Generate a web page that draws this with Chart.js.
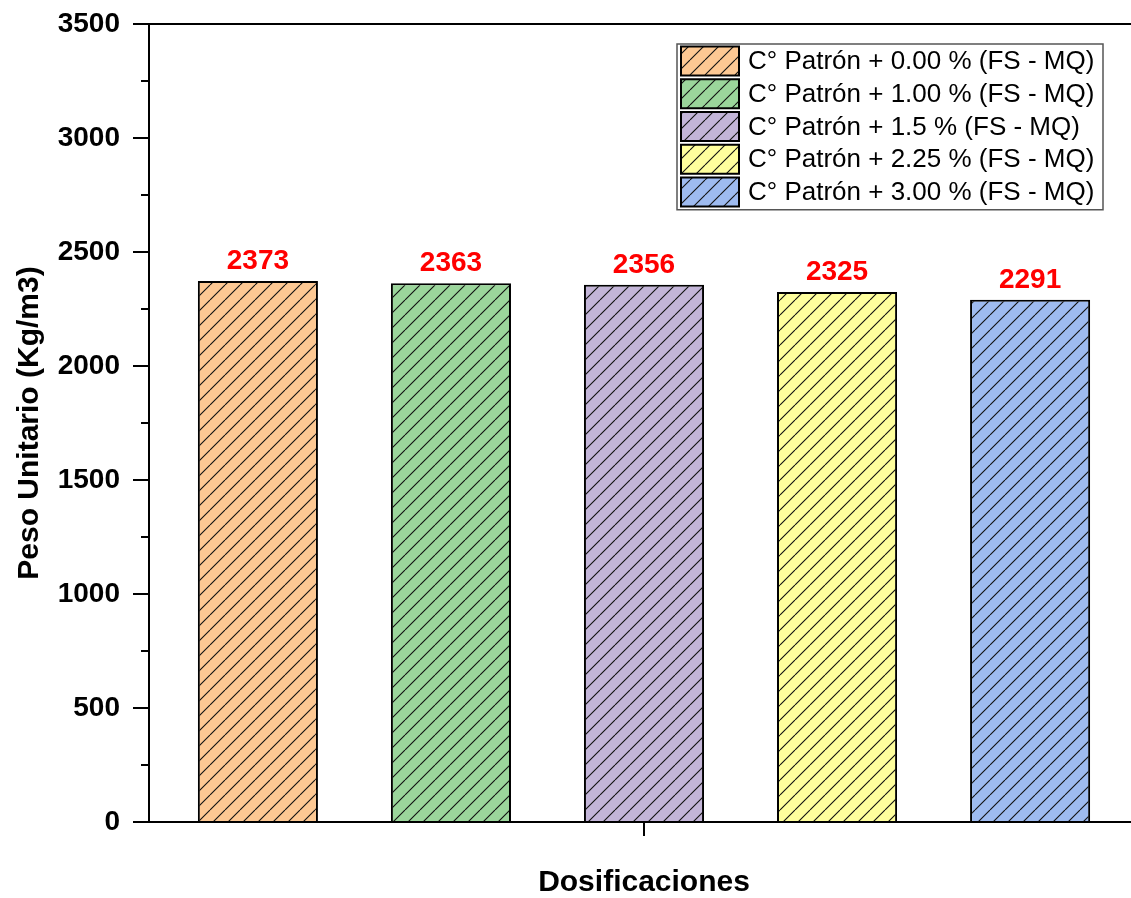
<!DOCTYPE html>
<html><head><meta charset="utf-8">
<script src="https://cdn.jsdelivr.net/npm/chart.js@4.4.1/dist/chart.umd.min.js"></script>
<style>html,body{margin:0;padding:0;background:#fff;overflow:hidden;width:1131px;height:898px}
canvas{display:block}</style></head><body>
<canvas id="c" width="1160" height="898" style="width:1160px;height:898px"></canvas>
<script>
const categories = [''];
const seriesLabels = [
  'C° Patrón + 0.00 % (FS - MQ)',
  'C° Patrón + 1.00 % (FS - MQ)',
  'C° Patrón + 1.5 % (FS - MQ)',
  'C° Patrón + 2.25 % (FS - MQ)',
  'C° Patrón + 3.00 % (FS - MQ)'
];
const seriesValues = [2373, 2363, 2356, 2325, 2291];
const seriesColors = ['#FDC893', '#9BD69B', '#C3B5D8', '#FFFF9D', '#9EBBF0'];
const yMin = 0, yMax = 3500, yStep = 500, yMinorStep = 250;
const xTitle = 'Dosificaciones';
const yTitle = 'Peso Unitario (Kg/m3)';

const FONT = '"Liberation Sans", Arial, sans-serif';

function hatch(color) {
  const s = 15;
  const c = document.createElement('canvas');
  c.width = s; c.height = s;
  const g = c.getContext('2d');
  g.fillStyle = color; g.fillRect(0, 0, s, s);
  g.strokeStyle = '#111'; g.lineWidth = 1.1;
  g.beginPath();
  for (const k of [-s, 0, s]) { g.moveTo(k, s); g.lineTo(k + s, 0); }
  g.stroke();
  return g.createPattern(c, 'repeat');
}

const datasets = seriesLabels.map((lab, i) => ({
  label: lab,
  data: [seriesValues[i]],
  backgroundColor: hatch(seriesColors[i]),
  borderColor: '#000',
  borderWidth: 2,
  borderSkipped: 'start',
  categoryPercentage: 0.975,
  barPercentage: 0.622
}));

const extras = {
  id: 'extras',
  afterDraw(chart) {
    const ctx = chart.ctx;
    const ca = chart.chartArea;
    const y = chart.scales.y;
    ctx.save();
    ctx.strokeStyle = '#000'; ctx.lineWidth = 2;
    ctx.beginPath();
    ctx.moveTo(ca.left, ca.top); ctx.lineTo(ca.right, ca.top);
    ctx.stroke();
    ctx.beginPath();
    for (let v = yMin + yMinorStep; v < yMax; v += yStep) {
      const py = Math.round(y.getPixelForValue(v));
      ctx.moveTo(ca.left - 8, py); ctx.lineTo(ca.left, py);
    }
    ctx.stroke();
    ctx.fillStyle = '#FF0000';
    ctx.font = 'bold 28px ' + FONT;
    ctx.textAlign = 'center'; ctx.textBaseline = 'alphabetic';
    chart.data.datasets.forEach((ds, i) => {
      const el = chart.getDatasetMeta(i).data[0];
      ctx.fillText(String(ds.data[0]), el.x, el.y - 12);
    });
    const lx = 677, ly = 44, lw = 426, rowH = 32.75;
    const lh = rowH * chart.data.datasets.length + 2;
    ctx.fillStyle = '#fff';
    ctx.fillRect(lx, ly, lw, lh);
    ctx.strokeStyle = '#555'; ctx.lineWidth = 1.5;
    ctx.strokeRect(lx, ly, lw, lh);
    ctx.font = '26px ' + FONT;
    ctx.textAlign = 'left'; ctx.textBaseline = 'middle';
    chart.data.datasets.forEach((ds, i) => {
      const cy = ly + 17 + i * rowH;
      ctx.fillStyle = ds.backgroundColor;
      ctx.fillRect(lx + 4, cy - 14.5, 58, 29);
      ctx.strokeStyle = '#000'; ctx.lineWidth = 2;
      ctx.strokeRect(lx + 4, cy - 14.5, 58, 29);
      ctx.fillStyle = '#000';
      ctx.fillText(ds.label, lx + 71, cy + 1);
    });
    ctx.restore();
  }
};

new Chart(document.getElementById('c'), {
  type: 'bar',
  data: { labels: categories, datasets },
  options: {
    responsive: false, animation: false, devicePixelRatio: 1,
    layout: { padding: { top: 24, right: 21, bottom: 0, left: 0 } },
    plugins: { legend: { display: false }, tooltip: { enabled: false } },
    scales: {
      x: {
        type: 'category', offset: true,
        grid: { display: true, offset: false, drawOnChartArea: false, drawTicks: true, tickLength: 14, color: '#000', lineWidth: 2 },
        border: { display: true, color: '#000', width: 2 },
        ticks: { display: false },
        title: { display: true, text: xTitle, color: '#000', font: { family: FONT, size: 30, weight: 'bold', lineHeight: 1 }, padding: { top: 0, bottom: 0 } },
        afterFit(s) { s.height = 76; }
      },
      y: {
        min: yMin, max: yMax,
        ticks: { stepSize: yStep, color: '#000', font: { family: FONT, size: 28, weight: 'bold' }, padding: 13, format: { useGrouping: false } },
        grid: { drawOnChartArea: false, drawTicks: true, tickLength: 16, color: '#000', lineWidth: 2 },
        border: { display: true, color: '#000', width: 2 },
        title: { display: true, text: yTitle, color: '#000', font: { family: FONT, size: 30, weight: 'bold', lineHeight: 1 }, padding: { top: 15, bottom: 0 } },
        afterFit(s) { s.width = 149; s.paddingTop = 0; s.paddingBottom = 0; }
      }
    }
  },
  plugins: [extras]
});
</script>
</body></html>
